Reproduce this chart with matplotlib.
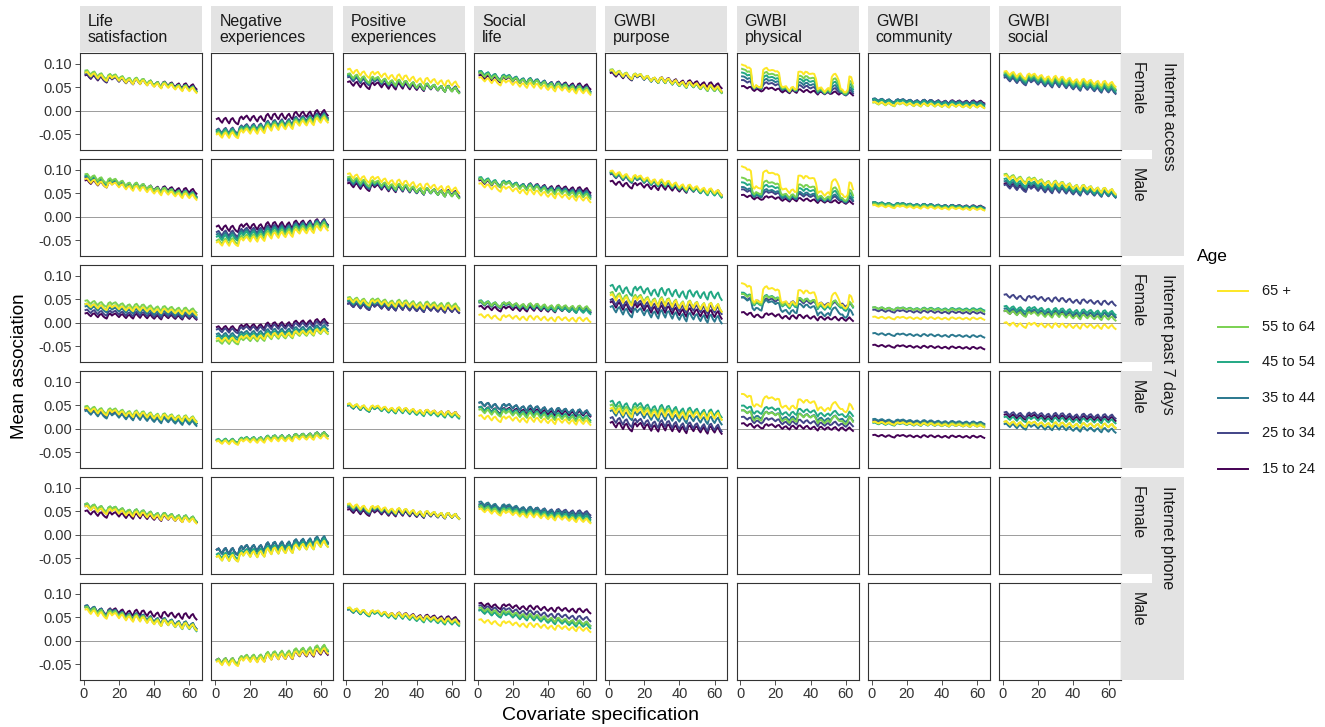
import numpy as np
import matplotlib.pyplot as plt
from matplotlib.lines import Line2D
from matplotlib.patches import Rectangle

plt.rcParams['font.family'] = ['Liberation Sans', 'DejaVu Sans']

# ---- data ----
outcomes = ["Life\nsatisfaction", "Negative\nexperiences", "Positive\nexperiences",
            "Social\nlife", "GWBI\npurpose", "GWBI\nphysical", "GWBI\ncommunity", "GWBI\nsocial"]
internet = ["Internet access", "Internet past 7 days", "Internet phone"]
sexes = ["Female", "Male"]
ages = ["15 to 24", "25 to 34", "35 to 44", "45 to 54", "55 to 64", "65 +"]
age_colors = ["#440154", "#414487", "#2A788E", "#22A884", "#7AD151", "#FDE725"]
spec = np.arange(1, 65)

# shared specification wiggle (estimated by eye, -1..1)
wiggle = [0.8, 1.0, 0.3, -0.2, 0.6, 0.9, 0.1, -0.5, 0.4, 0.7, -0.1, -0.6, -0.9, 0.5, 0.9, 0.2,
          0.7, 1.0, 0.3, -0.3, 0.5, 0.8, 0.0, -0.6, 0.3, 0.6, -0.2, -0.7, 0.6, 1.0, 0.2, -0.4,
          0.7, 0.9, 0.1, -0.5, 0.4, 0.8, -0.1, -0.6, 0.2, 0.6, -0.3, -0.8, 0.6, 0.9, 0.2, -0.3,
          0.5, 0.8, 0.0, -0.5, 0.3, 0.7, -0.2, -0.7, 0.6, 0.9, 0.1, -0.4, 0.4, 0.8, -0.1, -0.6]
# blocky jumps seen in GWBI physical
phys_block = [1.0, 0.95, 1.0, 0.95, 0.9, 0.8,
              0.1, 0.05, 0.1, 0.0, 0.05, 0.1,
              0.95, 0.9, 0.9, 0.85, 0.8, 0.8, 0.85, 0.85, 0.8, 0.7,
              0.2, 0.15, 0.1, 0.1, 0.05, 0.0, 0.05, 0.05, 0.0, 0.1,
              0.8, 0.8, 0.85, 0.8, 0.85, 0.8, 0.8, 0.85, 0.8, 0.75, 0.6,
              0.15, 0.1, 0.1, 0.05, 0.0, 0.05, 0.1, 0.05,
              0.75, 0.8, 0.8, 0.75, 0.6,
              0.1, 0.05, 0.0, 0.05, 0.1,
              0.7, 0.75, 0.5]

# rows: access F, access M, past7 F, past7 M, phone F, phone M ; cols: ages as above
life_start = [[0.070, 0.072, 0.075, 0.078, 0.080, 0.076],
              [0.072, 0.078, 0.080, 0.082, 0.085, 0.075],
              [0.015, 0.022, 0.030, 0.035, 0.042, 0.035],
              [0.035, 0.035, 0.032, 0.040, 0.042, 0.038],
              [0.045, 0.055, 0.058, 0.060, 0.060, 0.055],
              [0.065, 0.068, 0.068, 0.065, 0.065, 0.060]]
life_end = [[0.050, 0.046, 0.045, 0.045, 0.044, 0.042],
            [0.053, 0.047, 0.045, 0.045, 0.043, 0.040],
            [0.010, 0.012, 0.015, 0.020, 0.025, 0.020],
            [0.015, 0.015, 0.010, 0.015, 0.020, 0.018],
            [0.030, 0.030, 0.032, 0.032, 0.032, 0.028],
            [0.050, 0.030, 0.030, 0.025, 0.028, 0.027]]
life_amp = [0.007, 0.007, 0.006, 0.007, 0.007, 0.008]

neg_start = [[-0.025, -0.048, -0.052, -0.050, -0.055, -0.058],
             [-0.028, -0.040, -0.045, -0.050, -0.058, -0.062],
             [-0.015, -0.020, -0.030, -0.035, -0.045, -0.040],
             [-0.030, -0.030, -0.030, -0.028, -0.030, -0.032],
             [-0.040, -0.040, -0.040, -0.050, -0.055, -0.055],
             [-0.048, -0.048, -0.050, -0.050, -0.048, -0.052]]
neg_end = [[-0.005, -0.010, -0.012, -0.014, -0.016, -0.020],
           [-0.012, -0.013, -0.014, -0.016, -0.018, -0.024],
           [0.003, -0.002, -0.010, -0.015, -0.020, -0.018],
           [-0.012, -0.012, -0.012, -0.012, -0.012, -0.018],
           [-0.012, -0.012, -0.010, -0.015, -0.020, -0.020],
           [-0.025, -0.018, -0.018, -0.016, -0.015, -0.022]]
neg_amp = [0.009, 0.009, 0.007, 0.006, 0.010, 0.009]

pos_start = [[0.055, 0.065, 0.068, 0.070, 0.072, 0.082],
             [0.065, 0.070, 0.072, 0.075, 0.078, 0.085],
             [0.035, 0.035, 0.040, 0.042, 0.048, 0.045],
             [0.045, 0.045, 0.045, 0.045, 0.048, 0.048],
             [0.048, 0.052, 0.055, 0.058, 0.058, 0.060],
             [0.062, 0.062, 0.062, 0.062, 0.065, 0.065]]
pos_end = [[0.045, 0.043, 0.043, 0.043, 0.042, 0.055],
           [0.048, 0.046, 0.045, 0.045, 0.044, 0.055],
           [0.025, 0.025, 0.030, 0.032, 0.035, 0.030],
           [0.030, 0.030, 0.028, 0.025, 0.028, 0.030],
           [0.038, 0.038, 0.038, 0.038, 0.038, 0.038],
           [0.045, 0.042, 0.040, 0.035, 0.038, 0.040]]
pos_amp = [0.008, 0.008, 0.007, 0.006, 0.007, 0.006]

soc_start = [[0.070, 0.075, 0.078, 0.078, 0.075, 0.065],
             [0.072, 0.075, 0.075, 0.078, 0.075, 0.065],
             [0.030, 0.040, 0.038, 0.042, 0.040, 0.012],
             [0.040, 0.050, 0.050, 0.040, 0.035, 0.022],
             [0.055, 0.060, 0.065, 0.058, 0.055, 0.050],
             [0.075, 0.070, 0.060, 0.060, 0.065, 0.040]]
soc_end = [[0.050, 0.045, 0.045, 0.042, 0.042, 0.038],
           [0.055, 0.050, 0.048, 0.045, 0.042, 0.035],
           [0.025, 0.028, 0.025, 0.022, 0.030, 0.005],
           [0.030, 0.033, 0.033, 0.022, 0.018, 0.012],
           [0.040, 0.045, 0.040, 0.035, 0.030, 0.028],
           [0.062, 0.045, 0.035, 0.030, 0.035, 0.022]]
soc_amp = [0.007, 0.007, 0.006, 0.007, 0.006, 0.006]

# GWBI outcomes only measured for the first two internet items
pur_start = [[0.075, 0.078, 0.080, 0.080, 0.082, 0.080],
             [0.070, 0.085, 0.088, 0.088, 0.090, 0.092],
             [0.035, 0.040, 0.025, 0.070, 0.055, 0.050],
             [0.005, 0.015, 0.030, 0.050, 0.042, 0.035]]
pur_end = [[0.052, 0.045, 0.043, 0.042, 0.042, 0.045],
           [0.050, 0.048, 0.046, 0.045, 0.048, 0.050],
           [0.015, 0.025, 0.005, 0.055, 0.030, 0.030],
           [-0.005, 0.000, 0.015, 0.030, 0.025, 0.025]]
pur_amp = [0.007, 0.007, 0.011, 0.010]

phy_start = [[0.045, 0.050, 0.050, 0.050, 0.050, 0.050],
             [0.040, 0.045, 0.045, 0.048, 0.050, 0.062],
             [0.015, 0.045, 0.030, 0.040, 0.042, 0.045],
             [0.005, 0.015, 0.025, 0.035, 0.020, 0.050]]
phy_end = [[0.033, 0.033, 0.033, 0.034, 0.035, 0.038],
           [0.028, 0.030, 0.030, 0.032, 0.033, 0.040],
           [0.005, 0.035, 0.010, 0.025, 0.030, 0.030],
           [-0.003, 0.005, 0.015, 0.025, 0.010, 0.035]]
phy_block = [[0.004, 0.012, 0.020, 0.028, 0.036, 0.045],
             [0.003, 0.010, 0.015, 0.022, 0.030, 0.042],
             [0.003, 0.005, 0.020, 0.020, 0.015, 0.035],
             [0.002, 0.006, 0.010, 0.010, 0.015, 0.020]]
phy_amp = [0.004, 0.004, 0.005, 0.005]

com_start = [[0.020, 0.022, 0.022, 0.020, 0.014, 0.015],
             [0.026, 0.028, 0.028, 0.028, 0.025, 0.022],
             [-0.050, 0.025, -0.025, 0.030, 0.030, 0.010],
             [-0.016, 0.015, 0.018, 0.010, 0.012, 0.012]]
com_end = [[0.018, 0.016, 0.015, 0.012, 0.008, 0.008],
           [0.021, 0.019, 0.020, 0.018, 0.016, 0.015],
           [-0.055, 0.020, -0.030, 0.028, 0.025, 0.008],
           [-0.018, 0.010, 0.012, 0.005, 0.008, 0.005]]
com_amp = [0.004, 0.003, 0.003, 0.003]

gso_start = [[0.070, 0.065, 0.068, 0.072, 0.075, 0.078],
             [0.065, 0.062, 0.070, 0.075, 0.085, 0.082],
             [0.020, 0.055, 0.025, 0.030, 0.020, -0.005],
             [0.025, 0.030, 0.005, 0.020, 0.010, 0.010]]
gso_end = [[0.048, 0.040, 0.042, 0.046, 0.050, 0.055],
           [0.048, 0.045, 0.045, 0.048, 0.052, 0.052],
           [0.015, 0.040, 0.015, 0.020, 0.008, -0.010],
           [0.020, 0.025, -0.005, 0.015, 0.005, 0.005]]
gso_amp = [0.007, 0.007, 0.006, 0.006]

panels = [(life_start, life_end, life_amp, None),
          (neg_start, neg_end, neg_amp, None),
          (pos_start, pos_end, pos_amp, None),
          (soc_start, soc_end, soc_amp, None),
          (pur_start, pur_end, pur_amp, None),
          (phy_start, phy_end, phy_amp, phy_block),
          (com_start, com_end, com_amp, None),
          (gso_start, gso_end, gso_amp, None)]

# ---- layout (pixels of a 1325x727 canvas) ----
W, H = 1325, 727
fig = plt.figure(figsize=(W / 100, H / 100), dpi=100)


def fx(x):
    return x / W


def fy(y):
    return 1 - y / H


col_left = [80 + 131.3 * i for i in range(8)]
row_top = [53 + 106 * j for j in range(6)]
pw, ph = 122, 96.5
strip_bg = "#E3E3E3"
txt = "#1A1A1A"

wig = np.array(wiggle)
blk = np.array(phys_block)
t = (spec - 1) / 63.0

for j in range(6):
    for i in range(8):
        ax = fig.add_axes([fx(col_left[i]), fy(row_top[j] + ph), pw / W, ph / H])
        ax.set_xlim(1 - 3.15, 64 + 3.15)
        ax.set_ylim(-0.083, 0.123)
        ax.axhline(0, color="#8C8C8C", lw=0.6, zorder=1)
        for s in ax.spines.values():
            s.set_color("#333333")
            s.set_linewidth(0.8)
        ax.set_xticks([0, 20, 40, 60])
        ax.set_yticks([-0.05, 0.0, 0.05, 0.10])
        ax.tick_params(length=3.5, width=0.6, color="#333333", labelsize=10.5,
                       labelcolor="#333333", pad=2)
        if i == 0:
            ax.set_yticklabels(["-0.05", "0.00", "0.05", "0.10"])
        else:
            ax.tick_params(axis="y", left=False, labelleft=False)
        if j != 5:
            ax.tick_params(axis="x", bottom=False, labelbottom=False)

        start, end, amp, block = panels[i]
        if j >= len(start):
            continue
        for k in range(6):
            y = start[j][k] + (end[j][k] - start[j][k]) * t + amp[j] * wig
            if block is not None:
                y = y + block[j][k] * blk
            ax.plot(spec, y, color=age_colors[k], lw=1.4, zorder=2 + k,
                    solid_joinstyle="round")

# column strips
for i in range(8):
    fig.add_artist(Rectangle((fx(col_left[i]), fy(52)), pw / W, 46 / H,
                             transform=fig.transFigure, facecolor=strip_bg,
                             edgecolor="none"))
    fig.text(fx(col_left[i] + 8), fy(29.5), outcomes[i], ha="left", va="center",
             fontsize=11.5, color=txt, linespacing=1.05)

# row strips (sex inside, internet item outside)
for j in range(6):
    fig.add_artist(Rectangle((fx(1121), fy(row_top[j] + ph)), 31 / W, ph / H,
                             transform=fig.transFigure, facecolor=strip_bg,
                             edgecolor="none"))
    fig.text(fx(1137), fy(row_top[j] + 9), sexes[j % 2], rotation=-90,
             ha="center", va="top", fontsize=11.5, color=txt)
for g in range(3):
    top = row_top[2 * g]
    bot = row_top[2 * g + 1] + ph
    fig.add_artist(Rectangle((fx(1152), fy(bot)), 32 / W, (bot - top) / H,
                             transform=fig.transFigure, facecolor=strip_bg,
                             edgecolor="none"))
    fig.text(fx(1168), fy(top + 9), internet[g], rotation=-90,
             ha="center", va="top", fontsize=11.5, color=txt)

# axis titles
fig.text(fx(20), fy(366), "Mean association", rotation=90, ha="center",
         va="center", fontsize=13.5, color="black")
fig.text(fx(600), fy(716), "Covariate specification", ha="center",
         va="center", fontsize=14, color="black")

# legend
fig.text(fx(1197), fy(256), "Age", ha="left", va="center", fontsize=12.5, color="black")
for n, k in enumerate(range(5, -1, -1)):
    yy = 291 + 35.6 * n
    fig.add_artist(Line2D([fx(1218), fx(1248)], [fy(yy), fy(yy)],
                          transform=fig.transFigure, color=age_colors[k], lw=1.4))
    fig.text(fx(1262), fy(yy), ages[k], ha="left", va="center", fontsize=10.5, color=txt)

fig.savefig("out.png", dpi=100)
